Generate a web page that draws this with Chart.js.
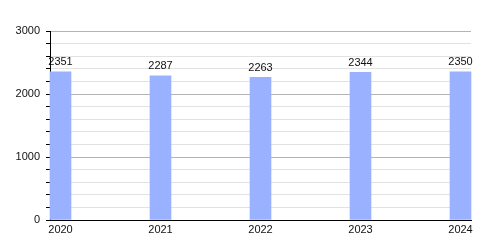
<!DOCTYPE html>
<html>
<head>
<meta charset="utf-8">
<script src="https://cdn.jsdelivr.net/npm/chart.js@4/dist/chart.umd.min.js"></script>
<style>
  html, body { margin: 0; padding: 0; background: #fff; }
  #wrap { width: 500px; height: 250px; }
</style>
</head>
<body>
<div id="wrap"><canvas id="grafico"></canvas></div>
<script>
// dados do gráfico
const anos = [2020, 2021, 2022, 2023, 2024];
const valores = [2351, 2287, 2263, 2344, 2350];
const ticksY = [0, 1000, 2000, 3000];

const fonte = { family: "'Liberation Sans', Arial, sans-serif", size: 11 };

// rótulos em cima das barras
const rotulos = {
  id: 'rotulos',
  afterDatasetsDraw(chart) {
    const ctx = chart.ctx;
    const meta = chart.getDatasetMeta(0);
    ctx.save();
    ctx.font = `${fonte.size}px ${fonte.family}`;
    ctx.fillStyle = '#111';
    ctx.textAlign = 'center';
    ctx.textBaseline = 'bottom';
    meta.data.forEach((bar, i) => {
      ctx.fillText(String(valores[i]), bar.x, bar.y - 4);
    });
    ctx.restore();
  }
};

new Chart(document.getElementById('grafico').getContext('2d'), {
  type: 'bar',
  data: {
    datasets: [{
      data: anos.map((a, i) => ({ x: a, y: valores[i] })),
      backgroundColor: '#99b1ff',
      borderWidth: 0,
      barThickness: 21,
      clip: false
    }]
  },
  options: {
    responsive: true,
    maintainAspectRatio: false,
    animation: false,
    layout: { padding: { left: 0, right: 29, top: 31, bottom: 0 } },
    plugins: { legend: { display: false }, tooltip: { enabled: false } },
    scales: {
      x: {
        type: 'linear',
        offset: false,
        min: anos[0] - 0.105,
        max: anos[anos.length - 1] + 0.105,
        afterBuildTicks: s => { s.ticks = anos.map(v => ({ value: v })); },
        afterFit: s => { s.height = 30; },
        grid: { display: false, drawTicks: false },
        border: { display: true, color: '#000', width: 1 },
        ticks: {
          color: '#111',
          font: fonte,
          padding: 3,
          maxRotation: 0,
          autoSkip: false,
          callback: v => String(v)
        }
      },
      y: {
        min: 0,
        max: 3000,
        afterFit: s => { s.width = 50; },
        border: { display: true, color: '#000', width: 1 },
        grid: {
          color: c => ticksY.includes(c.tick.value) ? '#b4b4b4' : '#e2e2e2',
          tickColor: '#000',
          tickLength: 4,
          drawTicks: true
        },
        ticks: {
          stepSize: 200,
          autoSkip: false,
          color: '#111',
          font: fonte,
          padding: 6,
          callback: v => ticksY.includes(v) ? String(v) : ''
        }
      }
    }
  },
  plugins: [rotulos]
});
</script>
</body>
</html>
